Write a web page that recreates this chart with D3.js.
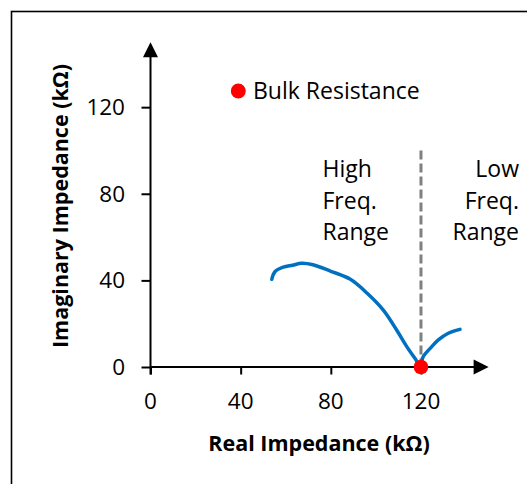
<!DOCTYPE html>
<html>
<head>
<meta charset="utf-8">
<script src="https://cdn.jsdelivr.net/npm/d3@7"></script>
<style>
  body { margin: 0; background: #fff; }
  svg { display: block; }
  text { font-family: "Open Sans", "Liberation Sans", sans-serif; fill: #000; }
</style>
</head>
<body>
<svg id="chart" width="527" height="484"></svg>
<script>
// Nyquist curve: real vs imaginary impedance (kΩ)
const realZ = [53.8, 55.2, 58.9, 63.0, 67.1, 72.1, 80.0, 88.5, 96.0, 103.3, 109.2, 113.7, 117.3, 119.6, 121.0, 124.8, 127.7, 132.1, 137.3];
const imagZ = [40.5, 44.0, 46.1, 47.0, 47.9, 47.2, 44.2, 40.6, 34.2, 26.3, 17.1, 9.4, 4.0, 0.8, 4.8, 9.4, 12.5, 15.6, 17.4];

// Bulk resistance marker
const bulkReal = [120];
const bulkImag = [0];

// Boundary between high- and low-frequency ranges
const boundaryReal = 120;
const boundaryTop = 100;

const xTicks = [0, 40, 80, 120];
const yTicks = [0, 40, 80, 120];
const axisMax = 150;

const highLabel = ["High", "Freq.", "Range"];
const lowLabel = ["Low", "Freq.", "Range"];

const svg = d3.select("#chart");

// Outer frame
svg.append("rect")
  .attr("x", 11.5).attr("y", 11.5)
  .attr("width", 560).attr("height", 520)
  .attr("fill", "none").attr("stroke", "#000").attr("stroke-width", 1.6);

const x = d3.scaleLinear().domain([0, axisMax]).range([150.5, 488.6]);
const y = d3.scaleLinear().domain([0, axisMax]).range([367, 42.2]);

// X axis
const xAxis = d3.axisBottom(x).tickValues(xTicks).tickSize(7.5).tickFormat("");
const gx = svg.append("g").attr("transform", `translate(0,${y(0)})`).call(xAxis);
gx.select(".domain").remove();
gx.selectAll(".tick line").attr("stroke", "#000").attr("stroke-width", 2);
svg.append("line")
  .attr("x1", x(0)).attr("x2", x(axisMax) - 12)
  .attr("y1", y(0)).attr("y2", y(0))
  .attr("stroke", "#000").attr("stroke-width", 2);
svg.append("path")
  .attr("d", `M${x(axisMax)},${y(0)} L${x(axisMax) - 15},${y(0) - 7.5} L${x(axisMax) - 15},${y(0) + 7.5} Z`)
  .attr("fill", "#000");

// Y axis
const yAxis = d3.axisLeft(y).tickValues(yTicks).tickSize(9).tickFormat("");
const gy = svg.append("g").attr("transform", `translate(${x(0)},0)`).call(yAxis);
gy.select(".domain").remove();
gy.selectAll(".tick line").attr("stroke", "#000").attr("stroke-width", 2);
svg.append("line")
  .attr("x1", x(0)).attr("x2", x(0))
  .attr("y1", y(0) + 7.5).attr("y2", y(axisMax) + 12)
  .attr("stroke", "#000").attr("stroke-width", 2);
svg.append("path")
  .attr("d", `M${x(0)},${y(axisMax)} L${x(0) - 7.5},${y(axisMax) + 15} L${x(0) + 7.5},${y(axisMax) + 15} Z`)
  .attr("fill", "#000");

// Tick labels
svg.selectAll(".xlab").data(xTicks).join("text")
  .attr("class", "xlab")
  .attr("x", d => x(d)).attr("y", 408.5)
  .attr("text-anchor", "middle")
  .attr("font-size", 22.5)
  .text(d => d);

svg.selectAll(".ylab").data(yTicks).join("text")
  .attr("class", "ylab")
  .attr("x", 125).attr("y", d => y(d) + 8)
  .attr("text-anchor", "end")
  .attr("font-size", 22.5)
  .text(d => d);

// Axis titles
svg.append("text")
  .attr("x", 319).attr("y", 450.5)
  .attr("text-anchor", "middle")
  .attr("font-size", 21.5).attr("font-weight", "bold")
  .text("Real Impedance (kΩ)");

svg.append("text")
  .attr("transform", "translate(68,206) rotate(-90)")
  .attr("text-anchor", "middle")
  .attr("font-size", 21.5).attr("font-weight", "bold")
  .text("Imaginary Impedance (kΩ)");

// Frequency boundary
svg.append("line")
  .attr("x1", x(boundaryReal)).attr("x2", x(boundaryReal))
  .attr("y1", y(boundaryTop)).attr("y2", y(0))
  .attr("stroke", "#808080").attr("stroke-width", 3)
  .attr("stroke-dasharray", "9,4");

// Impedance curve
const line = d3.line()
  .x((d, i) => x(realZ[i]))
  .y(d => y(d))
  .curve(d3.curveCatmullRom.alpha(0.5));
svg.append("path")
  .attr("d", line(imagZ))
  .attr("fill", "none")
  .attr("stroke", "#0070C0")
  .attr("stroke-width", 3.5)
  .attr("stroke-linecap", "round")
  .attr("stroke-linejoin", "round");

// Bulk resistance point
svg.selectAll(".bulk").data(bulkReal).join("circle")
  .attr("class", "bulk")
  .attr("cx", d => x(d)).attr("cy", (d, i) => y(bulkImag[i]))
  .attr("r", 7.3)
  .attr("fill", "#FF0000");

// Legend
svg.append("circle").attr("cx", 238.3).attr("cy", 91).attr("r", 7.5).attr("fill", "#FF0000");
svg.append("text")
  .attr("x", 253).attr("y", 99)
  .attr("font-size", 23)
  .text("Bulk Resistance");

// Range annotations
svg.selectAll(".hi").data(highLabel).join("text")
  .attr("class", "hi")
  .attr("x", 322.5).attr("y", (d, i) => 177 + i * 31.7)
  .attr("font-size", 23)
  .text(d => d);

svg.selectAll(".lo").data(lowLabel).join("text")
  .attr("class", "lo")
  .attr("x", 519).attr("y", (d, i) => 177 + i * 31.7)
  .attr("text-anchor", "end")
  .attr("font-size", 23)
  .text(d => d);
</script>
</body>
</html>
